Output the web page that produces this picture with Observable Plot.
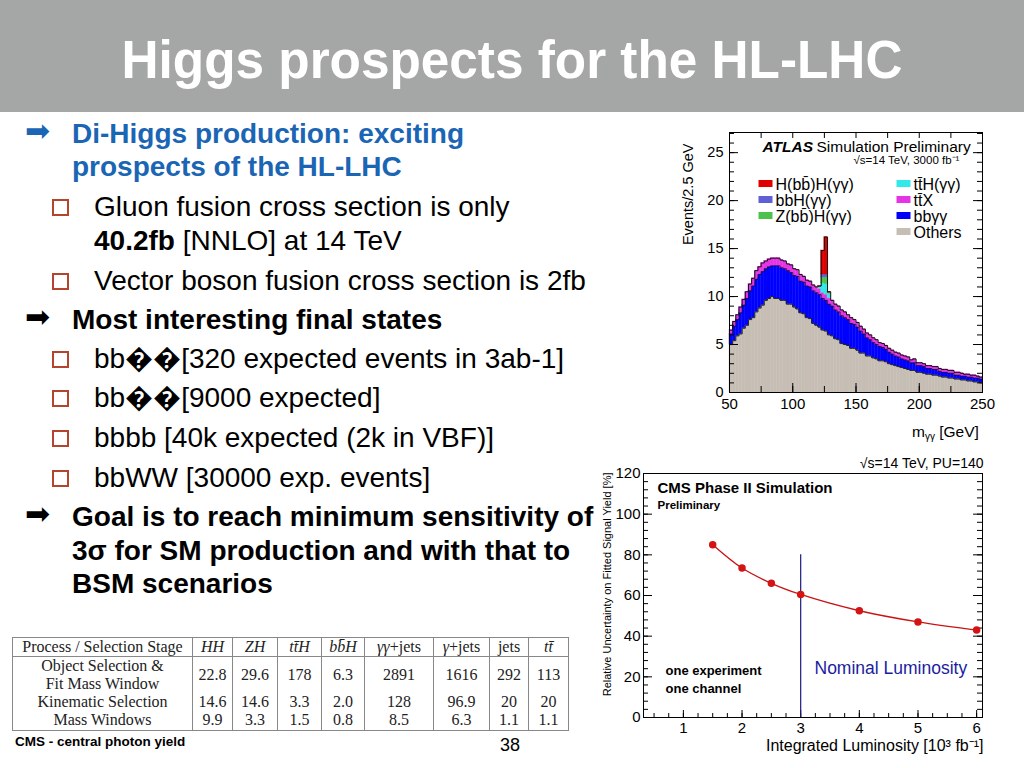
<!DOCTYPE html>
<html lang="en">
<head>
<meta charset="utf-8">
<title>Higgs prospects for the HL-LHC</title>
<script src="https://cdn.jsdelivr.net/npm/d3@7"></script>
<script src="https://cdn.jsdelivr.net/npm/@observablehq/plot@0.6"></script>
<style>
html,body{margin:0;padding:0;background:#fff;}
#slide{position:relative;width:1024px;height:768px;overflow:hidden;font-family:"Liberation Sans",Arial,sans-serif;color:#000;}
#titlebar{position:absolute;left:0;top:0;width:1024px;height:112px;background:#a5a7a6;}
#title{position:absolute;left:0;width:1024px;top:32px;text-align:center;color:#fff;font-size:54px;line-height:54px;font-weight:bold;white-space:nowrap;transform:scaleX(0.95);transform-origin:512px 0;}
.t{position:absolute;white-space:nowrap;font-size:28px;line-height:28px;}
.l1{left:72px;} .l2{left:94px;}
.b{font-weight:bold;}
.blue{color:#1b65b5;}
.arrow{position:absolute;left:25px;font-family:"DejaVu Sans",sans-serif;font-size:30px;line-height:30px;}
.sq{position:absolute;left:52px;width:13px;height:13px;border:2px solid #b5442c;}
#atlas,#cms{position:absolute;}
#atlas{left:670px;top:125px;}
#cms{left:600px;top:450px;}
#mgg{position:absolute;left:912px;top:424px;font-size:15.5px;line-height:16px;white-space:nowrap;}
#mgg sub{font-size:10px;vertical-align:-3px;}
#yields{position:absolute;left:12px;top:637px;border-collapse:collapse;table-layout:fixed;font-family:"Liberation Serif","DejaVu Serif",serif;font-size:16px;color:#222;}
#yields td,#yields th{padding:0;text-align:center;font-weight:normal;border-left:1px solid #888;border-right:1px solid #888;line-height:16px;}
#yields thead th{border-top:1px solid #888;border-bottom:1px solid #888;height:18px;line-height:18px;}
#yields tbody tr:last-child td{border-bottom:1px solid #888;}
#foot{position:absolute;left:15px;top:734px;font-size:13.5px;font-weight:bold;white-space:nowrap;}
#page{position:absolute;left:500px;top:735px;font-size:18px;white-space:nowrap;}
</style>
</head>
<body>
<div id="slide">
  <div id="titlebar"></div>
  <div id="title">Higgs prospects for the HL-LHC</div>

  <div class="arrow blue" style="top:116px">➡</div>
  <div class="t l1 b blue" style="top:120px">Di-Higgs production: exciting</div>
  <div class="t l1 b blue" style="top:153px">prospects of the HL-LHC</div>
  <div class="sq" style="top:199px"></div>
  <div class="t l2" style="top:193px">Gluon fusion cross section is only</div>
  <div class="t l2" style="top:227px"><b>40.2fb</b> [NNLO] at 14 TeV</div>
  <div class="sq" style="top:273px"></div>
  <div class="t l2" style="top:267px">Vector boson fusion cross section is 2fb</div>
  <div class="arrow" style="top:302px">➡</div>
  <div class="t l1 b" style="top:306px">Most interesting final states</div>
  <div class="sq" style="top:351px"></div>
  <div class="t l2" style="top:345px">bb��[320 expected events in 3ab-1]</div>
  <div class="sq" style="top:390px"></div>
  <div class="t l2" style="top:384px">bb��[9000 expected]</div>
  <div class="sq" style="top:430px"></div>
  <div class="t l2" style="top:424px">bbbb [40k expected (2k in VBF)]</div>
  <div class="sq" style="top:470px"></div>
  <div class="t l2" style="top:464px">bbWW [30000 exp. events]</div>
  <div class="arrow" style="top:499px">➡</div>
  <div class="t l1 b" style="top:503px">Goal is to reach minimum sensitivity of</div>
  <div class="t l1 b" style="top:537px">3σ for SM production and with that to</div>
  <div class="t l1 b" style="top:570px">BSM scenarios</div>

  <div id="atlas"></div>
  <div id="mgg">m<sub>γγ</sub> [GeV]</div>
  <div id="cms"></div>
  <table id="yields"></table>
  <div id="foot">CMS - central photon yield</div>
  <div id="page">38</div>
</div>
<script>
// ================= CMS Phase II: uncertainty vs luminosity =================
const lumi = [1.5, 2, 2.5, 3, 4, 5, 6];                 // 10^3 fb^-1
const uncertainty = [85, 73.5, 66, 60.5, 52.5, 47, 43];  // %
const cmsXTicks = [1, 2, 3, 4, 5, 6];
const cmsYTicks = [0, 20, 40, 60, 80, 100, 120];
const nominalLumi = [3];
const nominalLineTop = 80;

// ================= ATLAS bbγγ histogram (2.5 GeV bins, 50–250 GeV) =================
const atlasSeries = ["Others", "bbγγ", "tt̄X", "tt̄H(γγ)", "Z(bb̄)H(γγ)", "bbH(γγ)", "H(bb̄)H(γγ)"];
const atlasColors = ["#c6beb4", "#0000ff", "#e633e6", "#33e8e8", "#4cc24c", "#5f5fd6", "#e00000"];
const legendLeft = ["H(bb̄)H(γγ)", "bbH(γγ)", "Z(bb̄)H(γγ)"];
const legendRight = ["tt̄H(γγ)", "tt̄X", "bbγγ", "Others"];
const othersEvents = [
  5.0,5.4,5.9,6.1, 6.7,7.0,7.6,7.8, 8.4,8.8,9.1,9.6, 9.8,10.0,9.8,9.8,
  9.6,9.6,9.2,9.2, 8.9,8.7,8.3,8.2, 7.8,7.7,7.2,7.0, 6.8,6.5,6.4,6.0,
  5.9,5.6,5.5,5.1, 5.0,4.9,4.6,4.6, 4.4,4.1,4.1,3.8, 3.8,3.6,3.5,3.3,
  3.3,3.2,3.0,2.9, 2.8,2.7,2.6,2.5, 2.4,2.3,2.3,2.1, 2.1,2.0,1.9,1.9,
  1.8,1.8,1.7,1.6, 1.6,1.5,1.5,1.4, 1.4,1.3,1.3,1.2, 1.2,1.1,1.1,1.0];
const bbyyEvents = [
  1.1,1.5,1.7,2.2, 2.4,2.8,3.0,3.3, 3.4,3.5,3.5,3.3, 3.3,3.2,3.4,3.4,
  3.4,3.3,3.5,3.3, 3.3,3.4,3.3,3.3, 3.3,3.3,3.4,3.4, 3.4,3.3,3.2,3.2,
  3.1,3.0,2.9,2.9, 2.8,2.7,2.6,2.5, 2.4,2.3,2.0,1.9, 1.7,1.6,1.5,1.5,
  1.4,1.3,1.2,1.1, 1.0,1.0,0.9,0.9, 0.9,0.8,0.8,0.7, 0.7,0.7,0.6,0.6,
  0.6,0.6,0.5,0.5, 0.5,0.5,0.5,0.4, 0.4,0.4,0.4,0.4, 0.4,0.4,0.4,0.4];
const ttXEvents = [
  0.4,0.5,0.5,0.6, 0.6,0.7,0.7,0.8, 0.9,0.8,0.9,0.8, 0.8,0.8,0.8,0.8,
  0.8,0.8,0.7,0.8, 0.7,0.7,0.7,0.6, 0.6,0.6,0.6,0.6, 0.6,0.6,0.6,0.6,
  0.6,0.6,0.6,0.6, 0.6,0.5,0.6,0.5, 0.5,0.5,0.5,0.5, 0.5,0.5,0.5,0.4,
  0.4,0.4,0.4,0.4, 0.4,0.4,0.4,0.4, 0.4,0.3,0.4,0.3, 0.3,0.3,0.3,0.3,
  0.3,0.3,0.3,0.3, 0.3,0.3,0.3,0.3, 0.3,0.3,0.2,0.3, 0.2,0.3,0.2,0.2];
const ttHPeak = {120: 0.2, 122.5: 1.0, 125: 1.1, 127.5: 0.5};
const zhPeak  = {122.5: 0.6, 125: 0.7, 127.5: 0.1};
const bbhPeak = {122.5: 0.3, 125: 0.3};
const hhPeak  = {120: 0.1, 122.5: 2.5, 125: 3.9, 127.5: 0.1};
const atlasYTicks = [0, 5, 10, 15, 20, 25];
const atlasXTicks = [50, 100, 150, 200, 250];

// ================= CMS table =================
const tableHeader = ["Process / Selection Stage", "<i>HH</i>", "<i>ZH</i>", "<i>tt̄H</i>", "<i>bb̄H</i>", "<i>γγ</i>+jets", "<i>γ</i>+jets", "jets", "<i>tt̄</i>"];
const tableColWidths = [180, 40, 45, 44, 43, 69, 56, 39, 40];
const tableStages = ["Object Selection &amp;<br>Fit Mass Window", "Kinematic Selection", "Mass Windows"];
const yieldsObject = ["22.8", "29.6", "178", "6.3", "2891", "1616", "292", "113"];
const yieldsKinematic = ["14.6", "14.6", "3.3", "2.0", "128", "96.9", "20", "20"];
const yieldsMass = ["9.9", "3.3", "1.5", "0.8", "8.5", "6.3", "1.1", "1.1"];

const FONT = "'Liberation Sans', Arial, Helvetica, sans-serif";

// ---------- ATLAS chart ----------
{
  const W = 354, H = 320, mL = 59, mR = 42, mT = 7, mB = 53;
  const FW = W - mL - mR, FH = H - mT - mB;
  const binLow = d3.range(50, 250, 2.5);
  const peakArr = (o) => binLow.map(b => o[b] ?? 0);
  const seriesValues = [othersEvents, bbyyEvents, ttXEvents, peakArr(ttHPeak), peakArr(zhPeak), peakArr(bbhPeak), peakArr(hhPeak)];
  const rows = [];
  seriesValues.forEach((vals, s) => vals.forEach((v, i) => rows.push({series: atlasSeries[s], x1: binLow[i], x2: binLow[i] + 2.5, y: v})));
  const cum = (k) => binLow.map((b, i) => d3.sum(seriesValues.slice(0, k), a => a[i]));
  const stepPts = (tops) => [...binLow.map((b, i) => ({x: b, y: tops[i]})), {x: 250, y: tops[tops.length - 1]}];
  const colorOf = Object.fromEntries(atlasSeries.map((s, i) => [s, atlasColors[i]]));
  const swatch = {draw(ctx) { ctx.moveTo(-7, -3.5); ctx.lineTo(7, -3.5); ctx.lineTo(7, 3.5); ctx.lineTo(-7, 3.5); ctx.closePath(); }};
  const legendMarks = [];
  legendLeft.forEach((s, i) => {
    legendMarks.push(Plot.dot([s], {frameAnchor: "top-left", dx: 36, dy: 51 + 16 * i, symbol: swatch, r: 4, fill: colorOf[s], stroke: null}));
    legendMarks.push(Plot.text([s], {text: d => d, frameAnchor: "top-left", dx: 46, dy: 57 + 16 * i, textAnchor: "start", lineAnchor: "bottom", fontSize: 16}));
  });
  legendRight.forEach((s, i) => {
    legendMarks.push(Plot.dot([s], {frameAnchor: "top-left", dx: 174, dy: 51 + 16 * i, symbol: swatch, r: 4, fill: colorOf[s], stroke: null}));
    legendMarks.push(Plot.text([s], {text: d => d, frameAnchor: "top-left", dx: 184, dy: 57 + 16 * i, textAnchor: "start", lineAnchor: "bottom", fontSize: 16}));
  });
  const chart = Plot.plot({
    width: W, height: H, marginLeft: mL, marginRight: mR, marginTop: mT, marginBottom: mB,
    style: {fontFamily: FONT, background: "transparent", color: "#000", overflow: "visible"},
    x: {domain: [50, 250]},
    y: {domain: [0, 27.1]},
    color: {domain: atlasSeries, range: atlasColors},
    marks: [
      Plot.rectY(rows, {x1: "x1", x2: "x2", y: "y", fill: "series", stroke: "series", strokeWidth: 0.4, order: atlasSeries}),
      Plot.line(stepPts(cum(1)), {x: "x", y: "y", curve: "step-after", stroke: "#222", strokeWidth: 1}),
      Plot.line(stepPts(cum(2)), {x: "x", y: "y", curve: "step-after", stroke: "#111", strokeWidth: 0.7}),
      Plot.line(stepPts(cum(7)), {x: "x", y: "y", curve: "step-after", stroke: "#111", strokeWidth: 1}),
      // ROOT-style inward ticks
      Plot.tickY(d3.range(0, 27.1, 1), {y: d => d, insetRight: FW - 5, stroke: "#000"}),
      Plot.tickY(atlasYTicks, {y: d => d, insetRight: FW - 9, stroke: "#000"}),
      Plot.tickY(d3.range(0, 27.1, 1), {y: d => d, insetLeft: FW - 5, stroke: "#000"}),
      Plot.tickY(atlasYTicks, {y: d => d, insetLeft: FW - 9, stroke: "#000"}),
      Plot.tickX(d3.range(50, 251, 25), {x: d => d, insetTop: FH - 6, stroke: "#000"}),
      Plot.tickX(atlasXTicks, {x: d => d, insetTop: FH - 9, stroke: "#000"}),
      Plot.tickX(d3.range(50, 251, 25), {x: d => d, insetBottom: FH - 6, stroke: "#000"}),
      Plot.frame({stroke: "#000"}),
      Plot.axisY(atlasYTicks, {tickSize: 0, tickPadding: 6, fontSize: 14.5, label: null}),
      Plot.axisX(atlasXTicks, {tickSize: 0, tickPadding: 6, fontSize: 15, label: null}),
      Plot.text(["Events/2.5 GeV"], {text: d => d, frameAnchor: "top-left", dx: -41, dy: 11, rotate: -90, textAnchor: "end", lineAnchor: "middle", fontSize: 14.5}),
      Plot.text(["ATLAS"], {text: d => d, frameAnchor: "top-left", dx: 33, dy: 19, textAnchor: "start", lineAnchor: "bottom", fontSize: 15.5, fontWeight: "bold", fontStyle: "italic"}),
      Plot.text(["Simulation Preliminary"], {text: d => d, frameAnchor: "top-left", dx: 87, dy: 19, textAnchor: "start", lineAnchor: "bottom", fontSize: 15.5}),
      Plot.text(["√s=14 TeV, 3000 fb⁻¹"], {text: d => d, frameAnchor: "top-left", dx: 124, dy: 31, textAnchor: "start", lineAnchor: "bottom", fontSize: 11.5}),
      ...legendMarks
    ]
  });
  document.getElementById("atlas").append(chart);
}

// ---------- CMS chart ----------
{
  const W = 424, H = 318, mL = 43, mR = 42, mT = 23, mB = 51;
  const FW = W - mL - mR, FH = H - mT - mB;
  const pts = lumi.map((x, i) => ({x, y: uncertainty[i]}));
  const chart = Plot.plot({
    width: W, height: H, marginLeft: mL, marginRight: mR, marginTop: mT, marginBottom: mB,
    style: {fontFamily: FONT, background: "transparent", color: "#000", overflow: "visible"},
    x: {domain: [0.32, 6.1]},
    y: {domain: [0, 120]},
    marks: [
      Plot.tickY(d3.range(0, 121, 4), {y: d => d, insetRight: FW - 5, stroke: "#000"}),
      Plot.tickY(cmsYTicks, {y: d => d, insetRight: FW - 9, stroke: "#000"}),
      Plot.tickY(d3.range(0, 121, 4), {y: d => d, insetLeft: FW - 5, stroke: "#000"}),
      Plot.tickY(cmsYTicks, {y: d => d, insetLeft: FW - 9, stroke: "#000"}),
      Plot.tickX(d3.range(0.5, 6.1, 0.25), {x: d => d, insetTop: FH - 4, stroke: "#000"}),
      Plot.tickX(cmsXTicks, {x: d => d, insetTop: FH - 7, stroke: "#000"}),
      Plot.frame({stroke: "#000"}),
      Plot.axisY(cmsYTicks, {tickSize: 0, tickPadding: 3, fontSize: 15, label: null}),
      Plot.axisX(cmsXTicks, {tickSize: 0, tickPadding: 5, fontSize: 15, label: null}),
      Plot.ruleX(nominalLumi, {x: d => d, y1: 0, y2: nominalLineTop, stroke: "#1a1a80", strokeWidth: 1.2}),
      Plot.line(pts, {x: "x", y: "y", curve: "catmull-rom", stroke: "#c81414", strokeWidth: 1.3}),
      Plot.dot(pts, {x: "x", y: "y", r: 3, fill: "#d41414", stroke: "#d41414"}),
      Plot.text(["CMS Phase II Simulation"], {text: d => d, frameAnchor: "top-left", dx: 14, dy: 19, textAnchor: "start", lineAnchor: "bottom", fontSize: 15, fontWeight: "bold"}),
      Plot.text(["Preliminary"], {text: d => d, frameAnchor: "top-left", dx: 14, dy: 35, textAnchor: "start", lineAnchor: "bottom", fontSize: 11.5, fontWeight: "bold"}),
      Plot.text(["one experiment"], {text: d => d, frameAnchor: "top-left", dx: 22, dy: 201, textAnchor: "start", lineAnchor: "bottom", fontSize: 13, fontWeight: "bold"}),
      Plot.text(["one channel"], {text: d => d, frameAnchor: "top-left", dx: 22, dy: 219, textAnchor: "start", lineAnchor: "bottom", fontSize: 13, fontWeight: "bold"}),
      Plot.text(["Nominal Luminosity"], {text: d => d, frameAnchor: "top-left", dx: 171, dy: 200, textAnchor: "start", lineAnchor: "bottom", fontSize: 17.5, fill: "#1c1ca0"}),
      Plot.text(["√s=14 TeV, PU=140"], {text: d => d, frameAnchor: "top-right", dx: 1, dy: -6, textAnchor: "end", lineAnchor: "bottom", fontSize: 14}),
      Plot.text(["Integrated Luminosity [10³ fb⁻¹]"], {text: d => d, frameAnchor: "bottom-right", dx: 1, dy: 33, textAnchor: "end", lineAnchor: "bottom", fontSize: 16}),
      Plot.text(["Relative Uncertainty on Fitted Signal Yield [%]"], {text: d => d, frameAnchor: "top-left", dx: -36, dy: -1, rotate: -90, textAnchor: "end", lineAnchor: "middle", fontSize: 11})
    ]
  });
  document.getElementById("cms").append(chart);
}

// ---------- Table ----------
{
  const table = document.getElementById("yields");
  const colgroup = "<colgroup>" + tableColWidths.map(w => `<col style="width:${w}px">`).join("") + "</colgroup>";
  const head = "<thead><tr>" + tableHeader.map(h => `<th>${h}</th>`).join("") + "</tr></thead>";
  const dataRows = [yieldsObject, yieldsKinematic, yieldsMass];
  const heights = [37, 17, 20];
  const body = "<tbody>" + dataRows.map((r, i) =>
    `<tr style="height:${heights[i]}px"><td style="line-height:${i === 0 ? 18 : 16}px">${tableStages[i]}</td>` + r.map(v => `<td>${v}</td>`).join("") + "</tr>").join("") + "</tbody>";
  table.innerHTML = colgroup + head + body;
  table.style.width = d3.sum(tableColWidths) + "px";
}
</script>
</body>
</html>
